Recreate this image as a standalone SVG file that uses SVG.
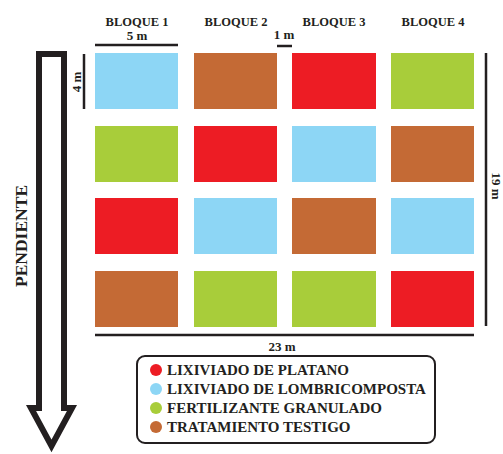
<svg xmlns="http://www.w3.org/2000/svg" width="503" height="454" viewBox="0 0 503 454">
<style>
text{font-family:"Liberation Serif","Times New Roman",serif;font-weight:bold;fill:#231F20}
.hd{font-size:12.5px;text-anchor:middle}
.dim{font-size:13px;text-anchor:middle}
.lg{font-size:15px}
.ln{stroke:#231F20;stroke-width:2.5;fill:none}
.b{fill:#8DD6F5}.r{fill:#ED1C24}.g{fill:#A8CD3A}.o{fill:#C46A35}
</style>
<rect width="503" height="454" fill="#fff"/>
<g id="headers">
<text class="hd" x="137" y="26">BLOQUE 1</text>
<text class="hd" x="236" y="26">BLOQUE 2</text>
<text class="hd" x="334" y="26">BLOQUE 3</text>
<text class="hd" x="433" y="26">BLOQUE 4</text>
</g>
<g id="dimensions">
<text class="dim" x="137" y="40">5 m</text>
<line class="ln" x1="95" y1="45" x2="178" y2="45"/>
<text class="dim" x="284" y="39">1 m</text>
<line class="ln" x1="277" y1="46" x2="292" y2="46"/>
<line class="ln" x1="84" y1="54" x2="84" y2="109"/>
<text class="dim" transform="translate(81,82) rotate(-90)">4 m</text>
<line class="ln" x1="486" y1="53" x2="486" y2="326"/>
<text class="dim" transform="translate(492,186) rotate(90)">19 m</text>
<line class="ln" x1="95" y1="335" x2="474" y2="335"/>
<text class="dim" x="282" y="351">23 m</text>
</g>
<g id="grid">
<rect class="b" x="95" y="53" width="83" height="56"/>
<rect class="o" x="194" y="53" width="83" height="56"/>
<rect class="r" x="292" y="53" width="84" height="56"/>
<rect class="g" x="391" y="53" width="83" height="56"/>
<rect class="g" x="95" y="126" width="83" height="56"/>
<rect class="r" x="194" y="126" width="83" height="56"/>
<rect class="b" x="292" y="126" width="84" height="56"/>
<rect class="o" x="391" y="126" width="83" height="56"/>
<rect class="r" x="95" y="198" width="83" height="56"/>
<rect class="b" x="194" y="198" width="83" height="56"/>
<rect class="o" x="292" y="198" width="84" height="56"/>
<rect class="b" x="391" y="198" width="83" height="56"/>
<rect class="o" x="95" y="271" width="83" height="56"/>
<rect class="g" x="194" y="271" width="83" height="56"/>
<rect class="g" x="292" y="271" width="84" height="56"/>
<rect class="r" x="391" y="271" width="83" height="56"/>
</g>
<g id="slope">
<polygon points="39,54 64,54 64,408 72,408 51.5,446 31,408 39,408" fill="none" stroke="#231F20" stroke-width="6" stroke-linejoin="miter"/>
<text transform="translate(27,236) rotate(-90)" style="font-size:17.5px;text-anchor:middle">PENDIENTE</text>
</g>
<g id="legend">
<rect x="137" y="356" width="298" height="87" rx="8" fill="#fff" stroke="#231F20" stroke-width="2"/>
<circle class="r" cx="156" cy="370" r="6"/>
<circle class="b" cx="156" cy="389" r="6"/>
<circle class="g" cx="156" cy="408" r="6"/>
<circle class="o" cx="156" cy="427" r="6"/>
<text class="lg" x="167" y="375">LIXIVIADO DE PLATANO</text>
<text class="lg" x="167" y="394">LIXIVIADO DE LOMBRICOMPOSTA</text>
<text class="lg" x="167" y="413">FERTILIZANTE GRANULADO</text>
<text class="lg" x="167" y="432">TRATAMIENTO TESTIGO</text>
</g>
</svg>
